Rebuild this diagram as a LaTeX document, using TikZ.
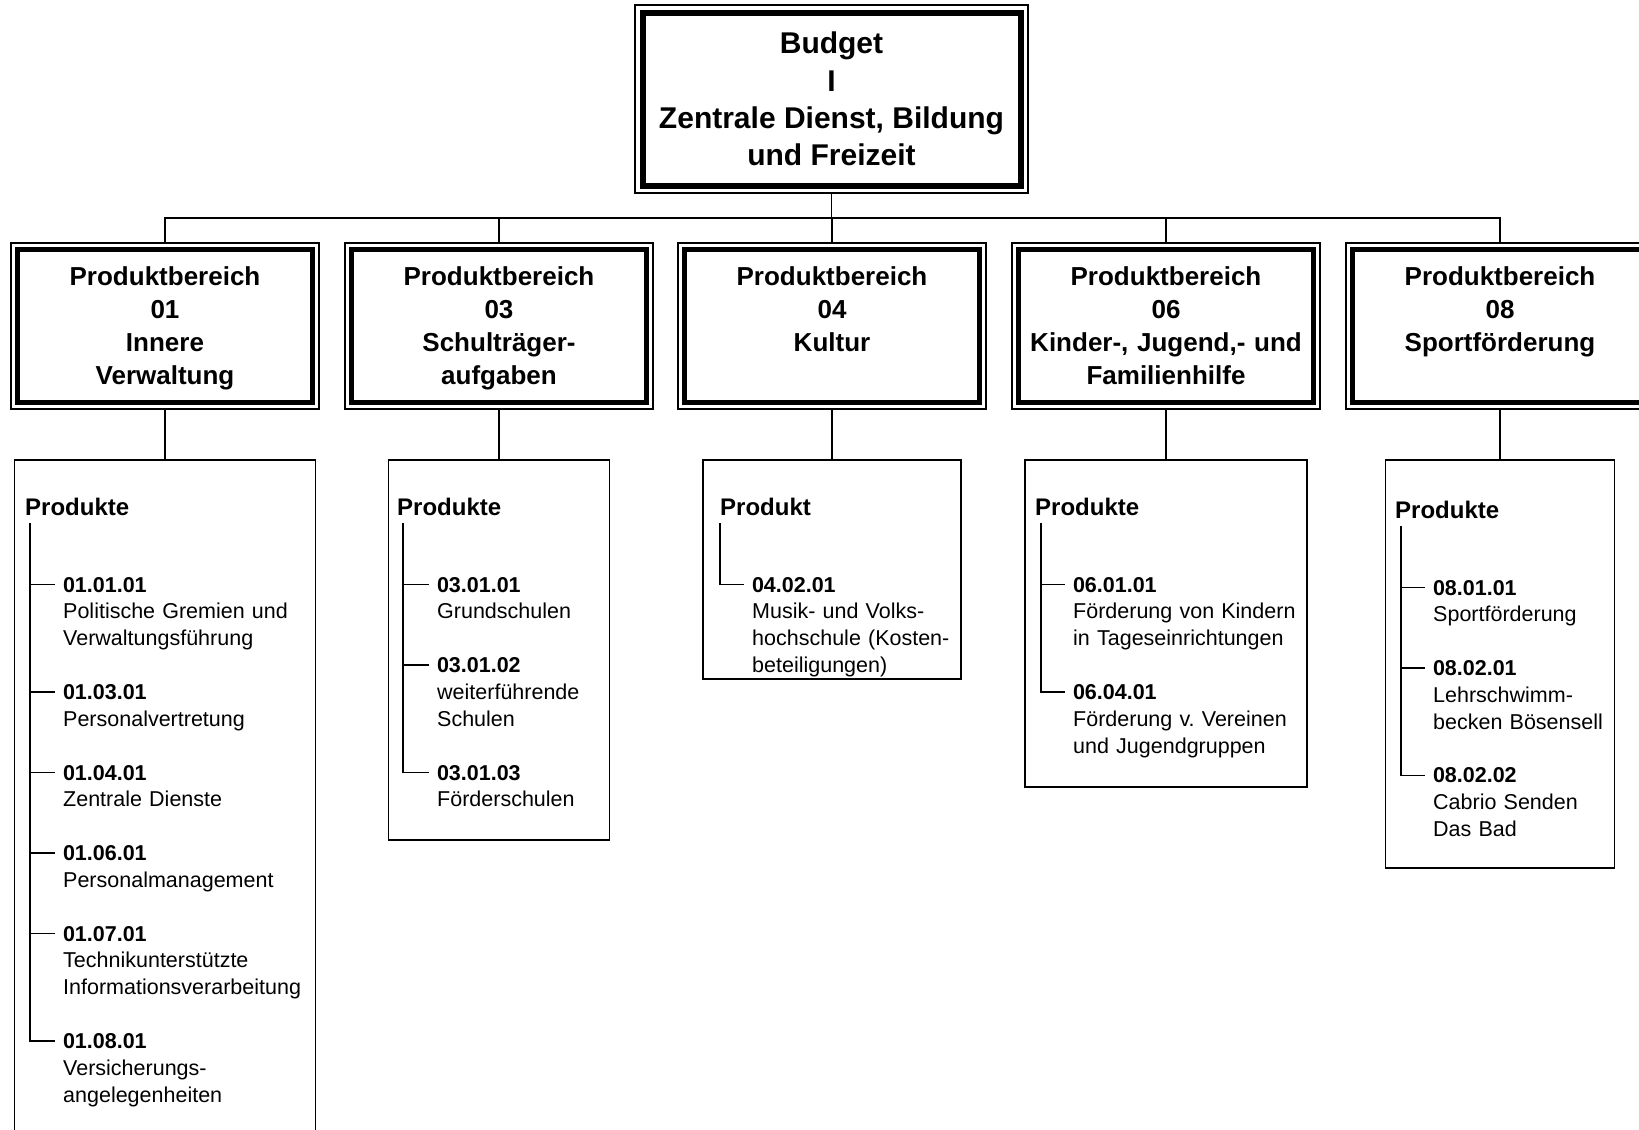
\documentclass[tikz,border=0pt]{standalone}
\usepackage{fontspec}
\setmainfont{Liberation Sans}
\usetikzlibrary{positioning,fit}

\begin{document}
\begin{tikzpicture}
	[x=1pt, y=1pt,
	root/.style={rectangle, draw, line width=6pt, outer sep=0, inner sep=0, minimum width=378pt, minimum height=173pt, align=center, font=\fontsize{30}{37.33}\selectfont\bfseries},
	pbox/.style={rectangle, draw, line width=4.5pt, outer sep=0, inner sep=0, minimum width=295pt, minimum height=153pt, text width=295pt, text height=19pt, text depth=100.4pt, align=center, font=\fontsize{26}{33}\selectfont\bfseries},
	rahmen/.style={rectangle, draw, line width=1.2pt, outer sep=0, inner sep=#1},
	liste/.style={rectangle, draw, line width=1.5pt, outer sep=0, inner sep=0, minimum width=#1},
	kopf/.style={anchor=base west, inner sep=0, font=\fontsize{24}{28}\selectfont\bfseries},
	nummer/.style={anchor=base west, inner xsep=8pt, inner ysep=0, outer sep=0, font=\fontsize{21.5}{26.85}\selectfont\bfseries},
	beschr/.style={anchor=base west, inner sep=0, text width=260pt, align=left, font=\fontsize{21.5}{26.85}\selectfont},
	verbindung/.style={line width=1.5pt},
	zweig/.style={line width=1.5pt}]
	\useasboundingbox (0,0) rectangle (1639,-1130);
	\clip (0,0) rectangle (1639,-1130);

	\node (budget) [root] at (831.5,-99) {Budget\\I\\Zentrale Dienst, Bildung\\und Freizeit};
	\node (fbudget) [rahmen=7.5pt, fit=(budget)] {};
	\coordinate (bus) at (831.5,-218);

	\node (pb01) [pbox] at (165,-326) {Produktbereich\\01\\Innere\\Verwaltung};
	\node (pb03) [pbox] at (499,-326) {Produktbereich\\03\\Schulträger-\\aufgaben};
	\node (pb04) [pbox] at (832,-326) {Produktbereich\\04\\Kultur};
	\node (pb06) [pbox] at (1166,-326) {Produktbereich\\06\\Kinder-, Jugend,- und\\Familienhilfe};
	\node (pb08) [pbox] at (1500,-326) {Produktbereich\\08\\Sportförderung};
	\node (fpb01) [rahmen=6.5pt, fit=(pb01)] {};
	\node (fpb03) [rahmen=6.5pt, fit=(pb03)] {};
	\node (fpb04) [rahmen=6.5pt, fit=(pb04)] {};
	\node (fpb06) [rahmen=6.5pt, fit=(pb06)] {};
	\node (fpb08) [rahmen=6.5pt, fit=(pb08)] {};

	\node (l01) [liste=301pt, minimum height=700pt, below=51pt of fpb01] {};
	\node (l03) [liste=221pt, minimum height=380pt, below=51pt of fpb03] {};
	\node (l04) [liste=258pt, minimum height=219pt, below=51pt of fpb04] {};
	\node (l06) [liste=282pt, minimum height=327pt, below=51pt of fpb06] {};
	\node (l08) [liste=229pt, minimum height=408pt, below=51pt of fpb08] {};

	\draw [verbindung] (fbudget) -- (bus);
	\draw [verbindung] (bus) -| (fpb01);
	\draw [verbindung] (bus) -| (fpb03);
	\draw [verbindung] (bus) -| (fpb04);
	\draw [verbindung] (bus) -| (fpb06);
	\draw [verbindung] (bus) -| (fpb08);
	\draw [verbindung] (fpb01) -- (l01);
	\draw [verbindung] (fpb03) -- (l03);
	\draw [verbindung] (fpb04) -- (l04);
	\draw [verbindung] (fpb06) -- (l06);
	\draw [verbindung] (fpb08) -- (l08);

	% Produktbereich 01
	\node (k01) [kopf] at (25,-515) {Produkte};
	\coordinate (t01) at (30,-523);
	\node (n010101) [nummer] at (55,-592) {01.01.01};
	\node (d010101) [beschr] at ([shift={(8,-26.85)}]n010101.base west) {Politische Gremien und\\Verwaltungsführung};
	\node (n010301) [nummer] at (55,-699.4) {01.03.01};
	\node (d010301) [beschr] at ([shift={(8,-26.85)}]n010301.base west) {Personalvertretung};
	\node (n010401) [nummer] at (55,-780) {01.04.01};
	\node (d010401) [beschr] at ([shift={(8,-26.85)}]n010401.base west) {Zentrale Dienste};
	\node (n010601) [nummer] at (55,-860.6) {01.06.01};
	\node (d010601) [beschr] at ([shift={(8,-26.85)}]n010601.base west) {Personalmanagement};
	\node (n010701) [nummer] at (55,-941.1) {01.07.01};
	\node (d010701) [beschr] at ([shift={(8,-26.85)}]n010701.base west) {Technikunterstützte\\Informationsverarbeitung};
	\node (n010801) [nummer] at (55,-1048.5) {01.08.01};
	\node (d010801) [beschr] at ([shift={(8,-26.85)}]n010801.base west) {Versicherungs-\\angelegenheiten};
	\draw [zweig] (t01) |- (n010101);
	\draw [zweig] (t01) |- (n010301);
	\draw [zweig] (t01) |- (n010401);
	\draw [zweig] (t01) |- (n010601);
	\draw [zweig] (t01) |- (n010701);
	\draw [zweig] (t01) |- (n010801);

	% Produktbereich 03
	\node (k03) [kopf] at (397,-515) {Produkte};
	\coordinate (t03) at (403,-523);
	\node (n030101) [nummer] at (429,-592) {03.01.01};
	\node (d030101) [beschr] at ([shift={(8,-26.85)}]n030101.base west) {Grundschulen};
	\node (n030102) [nummer] at (429,-672.6) {03.01.02};
	\node (d030102) [beschr] at ([shift={(8,-26.85)}]n030102.base west) {weiterführende\\Schulen};
	\node (n030103) [nummer] at (429,-780) {03.01.03};
	\node (d030103) [beschr] at ([shift={(8,-26.85)}]n030103.base west) {Förderschulen};
	\draw [zweig] (t03) |- (n030101);
	\draw [zweig] (t03) |- (n030102);
	\draw [zweig] (t03) |- (n030103);

	% Produktbereich 04
	\node (k04) [kopf] at (720,-515) {Produkt};
	\coordinate (t04) at (720,-523);
	\node (n040201) [nummer] at (744,-592) {04.02.01};
	\node (d040201) [beschr] at ([shift={(8,-26.85)}]n040201.base west) {Musik- und Volks-\\hochschule (Kosten-\\beteiligungen)};
	\draw [zweig] (t04) |- (n040201);

	% Produktbereich 06
	\node (k06) [kopf] at (1035,-515) {Produkte};
	\coordinate (t06) at (1041,-523);
	\node (n060101) [nummer] at (1065,-592) {06.01.01};
	\node (d060101) [beschr] at ([shift={(8,-26.85)}]n060101.base west) {Förderung von Kindern\\in Tageseinrichtungen};
	\node (n060401) [nummer] at (1065,-699.4) {06.04.01};
	\node (d060401) [beschr] at ([shift={(8,-26.85)}]n060401.base west) {Förderung v.\ Vereinen\\und Jugendgruppen};
	\draw [zweig] (t06) |- (n060101);
	\draw [zweig] (t06) |- (n060401);

	% Produktbereich 08
	\node (k08) [kopf] at (1395,-518) {Produkte};
	\coordinate (t08) at (1401,-526);
	\node (n080101) [nummer] at (1425,-595) {08.01.01};
	\node (d080101) [beschr] at ([shift={(8,-26.85)}]n080101.base west) {Sportförderung};
	\node (n080201) [nummer] at (1425,-675.5) {08.02.01};
	\node (d080201) [beschr] at ([shift={(8,-26.85)}]n080201.base west) {Lehrschwimm-\\becken Bösensell};
	\node (n080202) [nummer] at (1425,-782.9) {08.02.02};
	\node (d080202) [beschr] at ([shift={(8,-26.85)}]n080202.base west) {Cabrio Senden\\Das Bad};
	\draw [zweig] (t08) |- (n080101);
	\draw [zweig] (t08) |- (n080201);
	\draw [zweig] (t08) |- (n080202);
\end{tikzpicture}
\end{document}
